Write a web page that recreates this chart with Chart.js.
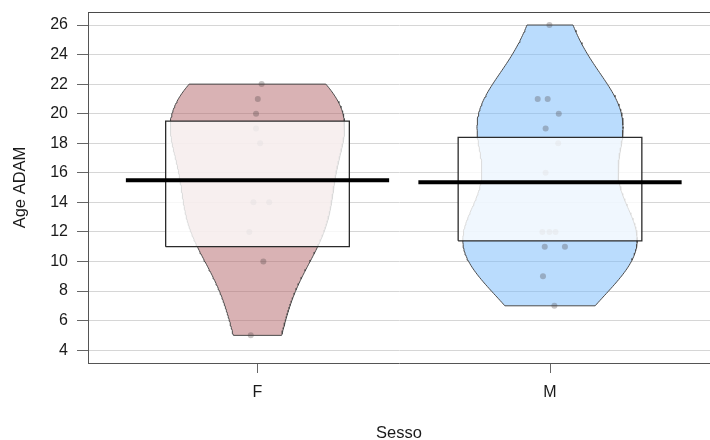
<!DOCTYPE html>
<html>
<head>
<meta charset="utf-8">
<script src="https://cdn.jsdelivr.net/npm/chart.js@4/dist/chart.umd.min.js"></script>
<style>
  html, body { margin: 0; padding: 0; background: #ffffff; }
  #wrap { width: 710px; height: 440px; }
</style>
</head>
<body>
<div id="wrap"><canvas id="c" width="710" height="440"></canvas></div>
<script>
// Groups on the x axis
const groups = ['F', 'M'];

// Age ADAM observations per group
const valuesF = [22, 21, 20, 19, 18, 14, 14, 12, 10, 5];
const valuesM = [26, 21, 21, 20, 19, 18, 16, 12, 12, 12, 11, 11, 9, 7];

// Horizontal jitter of each observation (x-axis units)
const jitterF = [0.014, 0.001, -0.005, -0.005, 0.009, -0.014, 0.040, -0.028, 0.020, -0.023];
const jitterM = [-0.002, -0.042, -0.008, 0.030, -0.015, 0.028, -0.015, -0.026, -0.002, 0.019, -0.018, 0.051, -0.024, 0.015];

// Inference band around each mean
const infLow = [11.0, 11.4];
const infHigh = [19.5, 18.4];

// Y axis tick labels
const yTicks = [4, 6, 8, 10, 12, 14, 16, 18, 20, 22, 24, 26];

// ---- statistics helpers ----
const mean = v => v.reduce((s, x) => s + x, 0) / v.length;
function quantile(sorted, p) {
  const h = (sorted.length - 1) * p;
  const lo = Math.floor(h);
  const hi = Math.min(lo + 1, sorted.length - 1);
  return sorted[lo] + (h - lo) * (sorted[hi] - sorted[lo]);
}
function bwNrd0(v) {
  const n = v.length, m = mean(v);
  const sd = Math.sqrt(v.reduce((s, x) => s + (x - m) ** 2, 0) / (n - 1));
  const s = [...v].sort((a, b) => a - b);
  const iqr = (quantile(s, 0.75) - quantile(s, 0.25)) / 1.34;
  const lo = Math.min(sd, iqr) || sd || 1;
  return 0.9 * lo * Math.pow(n, -0.2);
}
// Gaussian kernel density, trimmed to the data range, as a closed bean outline
function beanOutline(v, centre, halfMax) {
  const bw = bwNrd0(v);
  const lo = Math.min(...v), hi = Math.max(...v);
  const steps = 160;
  const ys = [], ds = [];
  for (let i = 0; i <= steps; i++) {
    const y = lo + (hi - lo) * i / steps;
    let d = 0;
    for (const x of v) d += Math.exp(-0.5 * ((y - x) / bw) ** 2);
    ys.push(y); ds.push(d);
  }
  const dmax = Math.max(...ds);
  const left = ys.map((y, i) => ({ x: centre - ds[i] / dmax * halfMax, y }));
  const right = ys.map((y, i) => ({ x: centre + ds[i] / dmax * halfMax, y })).reverse();
  return [...left, ...right, left[0]];
}
function band(centre, half, lo, hi) {
  return [
    { x: centre - half, y: lo }, { x: centre + half, y: lo },
    { x: centre + half, y: hi }, { x: centre - half, y: hi },
    { x: centre - half, y: lo }
  ];
}

const BEAN_HALF = 0.298;
const BAND_HALF = 0.314;
const LINE_HALF = 0.45;

const series = [valuesF, valuesM];
const jitters = [jitterF, jitterM];
const beanFill = ['rgba(179,101,105,0.5)', 'rgba(117,185,251,0.5)'];

const datasets = [];
series.forEach((vals, g) => {
  const c = g + 1;
  datasets.push({
    label: groups[g] + ' bean',
    data: beanOutline(vals, c, BEAN_HALF),
    showLine: true, fill: 'shape', tension: 0,
    backgroundColor: beanFill[g], borderColor: '#4a4a4a', borderWidth: 1,
    pointRadius: 0, order: 5
  });
  datasets.push({
    label: groups[g] + ' points',
    data: vals.map((y, i) => ({ x: c + jitters[g][i], y })),
    showLine: false, pointRadius: 3, pointBorderWidth: 0,
    pointBackgroundColor: 'rgba(70,60,60,0.3)', order: 4
  });
  datasets.push({
    label: groups[g] + ' band',
    data: band(c, BAND_HALF, infLow[g], infHigh[g]),
    showLine: true, fill: 'shape', tension: 0,
    backgroundColor: 'rgba(255,255,255,0.8)', borderColor: '#2b2b2b', borderWidth: 1.3,
    pointRadius: 0, order: 3
  });
  const m = mean(vals);
  datasets.push({
    label: groups[g] + ' mean',
    data: [{ x: c - LINE_HALF, y: m }, { x: c + LINE_HALF, y: m }],
    showLine: true, fill: false,
    borderColor: '#000000', borderWidth: 4, borderCapStyle: 'butt',
    pointRadius: 0, order: 2
  });
});

// Top frame line of the plotting region
const topFrame = {
  id: 'topFrame',
  afterDraw(chart) {
    const { ctx, chartArea: a } = chart;
    ctx.save();
    ctx.strokeStyle = '#4a4a4a';
    ctx.lineWidth = 1;
    const y = Math.round(a.top) + 0.5;
    ctx.beginPath();
    ctx.moveTo(a.left, y);
    ctx.lineTo(a.right, y);
    ctx.stroke();
    ctx.restore();
  }
};

Chart.defaults.font.family = '"Liberation Sans", Arial, sans-serif';
Chart.defaults.color = '#1a1a1a';

new Chart(document.getElementById('c'), {
  type: 'scatter',
  data: { datasets },
  options: {
    responsive: false,
    animation: false,
    events: [],
    layout: { autoPadding: false, padding: { top: 12, right: 0, bottom: 0, left: 0 } },
    plugins: { legend: { display: false }, tooltip: { enabled: false } },
    scales: {
      x: {
        type: 'linear', min: 0.4205, max: 2.547,
        afterBuildTicks: s => { s.ticks = groups.map((g, i) => ({ value: i + 1 })); },
        afterFit: s => { s.height = 77; s.paddingLeft = 0; s.paddingRight = 0; },
        ticks: {
          callback: (v, i) => groups[i],
          font: { size: 16 }, padding: 10, maxRotation: 0, autoSkip: false
        },
        grid: { drawOnChartArea: false, drawTicks: true, tickLength: 10, tickColor: '#666666' },
        border: { display: true, color: '#555555', width: 1 },
        title: { display: true, text: 'Sesso', font: { size: 16.5, lineHeight: 0.85 }, padding: { top: 0, bottom: 0 } }
      },
      y: {
        type: 'linear', min: 3.13, max: 26.88,
        afterBuildTicks: s => { s.ticks = yTicks.map(v => ({ value: v })); },
        afterFit: s => { s.width = 88; s.paddingTop = 0; s.paddingBottom = 0; },
        ticks: { font: { size: 16 }, padding: 9 },
        grid: { color: '#d6d6d6', lineWidth: 1, drawTicks: true, tickLength: 11, tickColor: '#666666' },
        border: { display: true, color: '#555555', width: 1 },
        title: { display: true, text: 'Age ADAM', font: { size: 16.5, lineHeight: 1.2 }, padding: { top: 11, bottom: 0 } }
      }
    }
  },
  plugins: [topFrame]
});
</script>
</body>
</html>
